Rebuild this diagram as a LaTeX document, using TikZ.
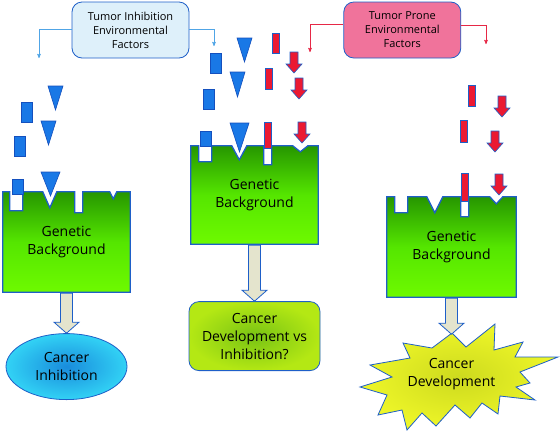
\documentclass[tikz,border=0pt]{standalone}
\usepackage{fontspec}
\setmainfont{Open Sans}
\usetikzlibrary{arrows,positioning,shapes.geometric,backgrounds,calc}

\definecolor{edgeblue}{RGB}{30,95,200}
\definecolor{inhibfill}{RGB}{222,240,250}
\definecolor{pronefill}{RGB}{240,115,155}
\definecolor{lightline}{RGB}{80,165,230}
\definecolor{redline}{RGB}{230,40,70}
\definecolor{piecefill}{RGB}{25,120,230}
\definecolor{pieceedge}{RGB}{20,80,190}
\definecolor{redfill}{RGB}{235,25,50}
\definecolor{beige}{RGB}{228,228,205}

\tikzset{
    %Define standard arrow tip
    >=stealth',
    %Define style for the factor boxes
    factor/.style={
           rectangle,
           rounded corners=10pt,
           draw=edgeblue, thick,
           minimum width=117pt,
           minimum height=56pt,
           inner sep=0pt,
           align=center,
           font=\fontsize{11}{14}\selectfont},
    % Define style for the genetic background text
    gene/.style={
           rectangle,
           minimum width=127pt,
           minimum height=100pt,
           inner sep=0pt,
           align=center,
           font=\fontsize{14}{18}\selectfont},
    genebox/.style={
           draw=edgeblue, line width=1.3pt,
           top color={rgb,255:red,38;green,150;blue,0},
           bottom color={rgb,255:red,110;green,250;blue,0},
           middle color={rgb,255:red,85;green,230;blue,0}},
    % Define styles for the outcomes
    inhibit/.style={
           ellipse,
           draw=edgeblue, thick,
           inner color={rgb,255:red,25;green,140;blue,220},
           outer color={rgb,255:red,50;green,210;blue,245},
           minimum width=121pt,
           minimum height=66pt,
           inner sep=0pt,
           align=center,
           font=\fontsize{14}{18}\selectfont},
    mixed/.style={
           rectangle,
           rounded corners=10pt,
           draw=edgeblue, thick,
           inner color={rgb,255:red,120;green,195;blue,20},
           outer color={rgb,255:red,180;green,232;blue,20},
           minimum width=131pt,
           minimum height=69pt,
           inner sep=0pt,
           align=center,
           font=\fontsize{14}{18}\selectfont},
    outburst/.style={
           minimum width=100pt,
           minimum height=80pt,
           inner sep=0pt,
           align=center,
           font=\fontsize{14}{18}\selectfont},
    burst/.style={
           draw=edgeblue, thick, line join=miter,
           inner color={rgb,255:red,205;green,218;blue,30},
           outer color={rgb,255:red,238;green,246;blue,40}},
    % Define arrow styles
    lightpil/.style={->, draw=lightline, semithick},
    redpil/.style={->, draw=redline, semithick},
    fat/.style={draw=edgeblue, thick, fill=beige},
    % Define styles for the falling factors
    bluepiece/.style={draw=pieceedge, fill=piecefill, semithick},
    redpiece/.style={draw=edgeblue, fill=redfill, semithick}
}

\newcommand{\bluebar}[3][20]{\draw[bluepiece] (#2,#3) rectangle ++(11,#1);}
\newcommand{\redbar}[3][21]{\draw[redpiece] (#2,#3) rectangle ++(7,#1);}
\newcommand{\bluetri}[4]{\draw[bluepiece] (#1,#2) -- ++(#3,0) -- ++(-#3/2,#4) -- cycle;}
\newcommand{\redarrow}[2]{\draw[redpiece] (#1+4,#2) -- ++(8,0) -- ++(0,12) -- ++(4,0)
    -- ++(-8,9) -- ++(-8,-9) -- ++(4,0) -- cycle;}
\newcommand{\fatarrow}[2]{\path[fat] ($(#1.south)+(-6,1)$) -- ($(#2.north)+(-6,-11)$)
    -- ++(-6.5,0) -- (#2.north) -- ++(12.5,-11) -- ++(-6.5,0) -- ($(#1.south)+(6,1)$) -- cycle;}

\begin{document}
\begin{tikzpicture}[x=1pt, y=-1pt, node distance=40pt]
      \useasboundingbox (0,0) rectangle (560,432);

      % environmental factors
      \node[factor, fill=inhibfill] (inhib) at (130.5,30) {Tumor Inhibition\\Environmental\\Factors};
      \node[factor, fill=pronefill, right=154pt of inhib] (prone) {Tumor Prone\\Environmental\\Factors};
      \coordinate (aimA) at (39,58);
      \coordinate (aimB) at (214,46);
      \coordinate (aimC) at (310,52);
      \coordinate (aimD) at (486,44);
      \draw[lightpil] ([yshift=1pt]inhib.west) -| (aimA);
      \draw[lightpil] ([yshift=1pt]inhib.east) -| (aimB);
      \draw[redpil] ([yshift=6pt]prone.west) -| (aimC);
      \draw[redpil] ([yshift=5pt]prone.east) -| (aimD);

      % genetic backgrounds
      \node[gene] (gbL) at (66.5,242) {Genetic\\Background};
      \node[gene, minimum height=98pt] (gbM) at (254.5,195) {Genetic\\Background};
      \node[gene, minimum width=129pt] (gbR) at (451.5,247) {Genetic\\Background};

      % outcomes
      \node[inhibit, below=41pt of gbL] (inhL) {Cancer\\Inhibition};
      \node[mixed, below=57pt of gbM] (devM) {Cancer\\Development vs\\Inhibition?};
      \node[outburst, below=37pt of gbR] (devR) {Cancer\\Development};

      \begin{scope}[on background layer]
        \path[genebox] (gbL.north west) -- ++(7,0) -- ++(0,19) -- ++(13,0) -- ++(0,-19)
          -- ++(20,0) -- ++(7,16) -- ++(7,-16) -- ++(18,0) -- ++(0,21) -- ++(8,0) -- ++(0,-21)
          -- ++(27,0) -- ++(3.5,7) -- ++(3.5,-7) -- (gbL.north east) -- (gbL.south east)
          -- (gbL.south west) -- cycle;
        \path[genebox] (gbM.north west) -- ++(8,0) -- ++(0,16) -- ++(13,0) -- ++(0,-16)
          -- ++(20,0) -- ++(7.5,14) -- ++(7.5,-14) -- ++(17,0) -- ++(0,19) -- ++(8,0) -- ++(0,-19)
          -- ++(21,0) -- ++(7.5,6) -- ++(7.5,-6) -- (gbM.north east) -- (gbM.south east)
          -- (gbM.south west) -- cycle;
        \path[genebox] (gbR.north west) -- ++(8,0) -- ++(0,16) -- ++(13,0) -- ++(0,-16)
          -- ++(19,0) -- ++(8,16) -- ++(8,-16) -- ++(18,0) -- ++(0,20) -- ++(8,0) -- ++(0,-20)
          -- ++(21,0) -- ++(6.5,7) -- ++(6.5,-7) -- (gbR.north east) -- (gbR.south east)
          -- (gbR.south west) -- cycle;
        \path[burst] (452,333) -- (466,347) -- (495,324) -- (494,350) -- (523,342) -- (515,357)
          -- (558,357) -- (520,372) -- (530,383) -- (516,387) -- (535,400) -- (500,396)
          -- (498,414) -- (482,403) -- (470,418) -- (455,405) -- (436,426) -- (422,413)
          -- (407,430) -- (402,410) -- (378,415) -- (387,395) -- (360,387) -- (392,377)
          -- (370,365) -- (410,358) -- (403,343) -- (432,348) -- cycle;
      \end{scope}

      \fatarrow{gbL}{inhL}
      \fatarrow{gbM}{devM}
      \fatarrow{gbR}{devR}

      % falling factors, left
      \bluetri{48}{86}{15}{24}
      \bluetri{41}{121}{15}{24}
      \bluetri{41}{172}{19}{24}
      \bluebar{21}{102}
      \bluebar{14}{136}
      \bluebar[15]{12}{179}

      % falling factors, middle
      \bluetri{237}{38}{15}{24}
      \bluetri{230}{72}{15}{25}
      \bluetri{230}{123}{19}{29}
      \bluebar{210}{53}
      \bluebar{203}{89}
      \bluebar[15]{200}{131}
      \redbar[20]{272}{33}
      \redbar{265}{68}
      \redbar[26]{264}{122}
      \redarrow{286}{52}
      \redarrow{291}{78}
      \redarrow{294}{122}

      % falling factors, right
      \redbar{468}{85}
      \redbar[22]{460}{120}
      \redbar[28]{461}{173}
      \redarrow{494}{96}
      \redarrow{487}{131}
      \redarrow{491}{174}
\end{tikzpicture}
\end{document}
